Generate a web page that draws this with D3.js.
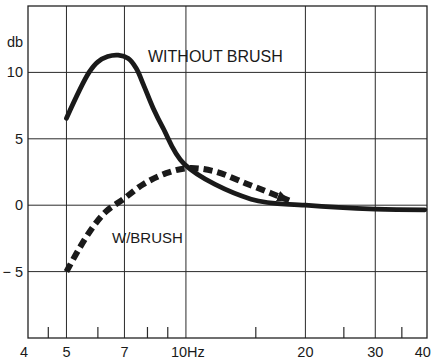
<!DOCTYPE html>
<html><head><meta charset="utf-8">
<script src="https://cdn.jsdelivr.net/npm/d3@7"></script>
<style>body{margin:0;background:#fff}svg{display:block}text{font-family:"Liberation Sans",Arial,sans-serif;fill:#1a1a1a}</style>
</head><body><div id="chart"></div>
<script>
// Data (frequency in Hz, level in db)
const withoutBrushHz = [5.0, 5.7, 6.0, 6.35, 6.75, 7.16, 7.5, 7.81, 8.27, 8.76, 9.9, 14.6, 20, 30, 40];
const withoutBrushDb = [6.55, 10.0, 10.8, 11.2, 11.3, 11.05, 10.3, 9.1, 7.3, 5.8, 3.1, 0.45, 0.0, -0.3, -0.35];
const withBrushHz = [5.0, 5.39, 5.85, 6.3, 6.95, 7.81, 8.92, 10.13, 11.77, 14.33, 16.38, 18.2];
const withBrushDb = [-5.0, -3.24, -1.58, -0.45, 0.45, 1.58, 2.41, 2.79, 2.56, 1.58, 0.9, 0.35];
const xGridTicks = [5, 7, 10, 20, 30];
const xTickValues = [4, 5, 7, 10, 20, 30, 40];
const xTickLabels = ["4", "5", "7", "10Hz", "20", "30", "40"];
const xMinorTicks = [4.5, 6, 8, 9, 15, 25, 35];
const yTickValues = [-5, 0, 5, 10];
const yTickLabels = ["\u2212 5", "0", "5", "10"];
const seriesLabels = ["WITHOUT BRUSH", "W/BRUSH"];
const yUnitLabel = "db";

const W = 441, H = 361;
const L = 28, R = 427, T = 6, B = 338;
const svg = d3.select("#chart").append("svg").attr("width", W).attr("height", H);
svg.append("rect").attr("width", W).attr("height", H).attr("fill", "#fff");

const x = d3.scaleLog().domain([4, 40.5]).range([L, R]);
const y = d3.scaleLinear().domain([-10, 15]).range([B, T]);

const g = svg.append("g");
// grid
g.selectAll(".vg").data(xGridTicks).join("line")
  .attr("x1", d => x(d)).attr("x2", d => x(d)).attr("y1", T).attr("y2", B)
  .attr("stroke", "#2a2a2a").attr("stroke-width", 1);
g.selectAll(".hg").data(yTickValues).join("line")
  .attr("x1", L).attr("x2", R).attr("y1", d => y(d)).attr("y2", d => y(d))
  .attr("stroke", "#2a2a2a").attr("stroke-width", 1);
// minor ticks
g.selectAll(".mt").data(xMinorTicks).join("line")
  .attr("x1", d => x(d)).attr("x2", d => x(d)).attr("y1", B).attr("y2", B - 11)
  .attr("stroke", "#2a2a2a").attr("stroke-width", 1.2);
// frame
g.append("rect").attr("x", L).attr("y", T).attr("width", R - L).attr("height", B - T)
  .attr("fill", "none").attr("stroke", "#222").attr("stroke-width", 1.3);

// x labels
svg.selectAll(".xl").data(xTickValues).join("text")
  .attr("x", (d, i) => x(d) + (i === 0 ? -4 : i === xTickValues.length - 1 ? -2 : i === 3 ? 2 : 0))
  .attr("y", 357).attr("text-anchor", "middle").attr("font-size", 14.5)
  .text((d, i) => xTickLabels[i]);
// y labels
svg.selectAll(".yl").data(yTickValues).join("text")
  .attr("x", 23).attr("y", d => y(d) + 5).attr("text-anchor", "end").attr("font-size", 14.5)
  .text((d, i) => yTickLabels[i]);
svg.append("text").attr("x", 15).attr("y", 47).attr("text-anchor", "middle").attr("font-size", 14.5).text(yUnitLabel);

// curves
const line = d3.line().x(d => x(d[0])).y(d => y(d[1])).curve(d3.curveCatmullRom.alpha(0.5));
const solidData = withoutBrushHz.map((h, i) => [h, withoutBrushDb[i]]);
const dashData = withBrushHz.map((h, i) => [h, withBrushDb[i]]);

svg.append("defs").append("marker").attr("id", "arr")
  .attr("markerUnits", "userSpaceOnUse").attr("markerWidth", 14).attr("markerHeight", 14)
  .attr("viewBox", "0 0 14 14").attr("refX", 12).attr("refY", 7).attr("orient", "auto")
  .append("path").attr("d", "M0,1.5 L12,7 L0,12.5 Z").attr("fill", "#1a1a1a");

svg.append("path").datum(solidData).attr("d", line)
  .attr("fill", "none").attr("stroke", "#1a1a1a").attr("stroke-width", 4.8).attr("stroke-linecap", "round").attr("stroke-linejoin", "round");
svg.append("path").datum(dashData).attr("d", line)
  .attr("fill", "none").attr("stroke", "#1a1a1a").attr("stroke-width", 6).attr("stroke-dasharray", "9,5")
  .attr("marker-end", "url(#arr)");

// annotations
svg.append("text").attr("x", 148).attr("y", 62).attr("font-size", 16).text(seriesLabels[0]);
svg.append("text").attr("x", 112).attr("y", 243).attr("font-size", 15).text(seriesLabels[1]);
</script></body></html>
